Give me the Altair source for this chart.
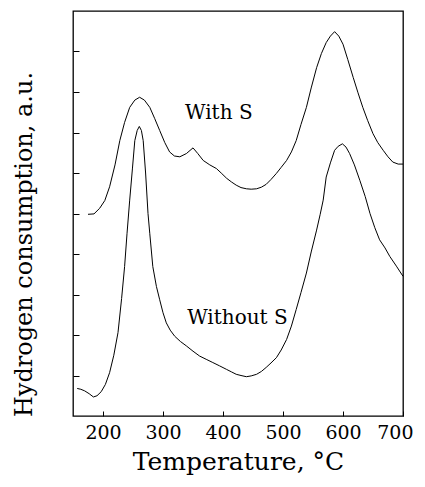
import altair as alt
import pandas as pd

# "With S" curve
temp_with = [175, 185, 194.5, 203, 211, 220, 228, 236, 244.5, 253, 261, 269, 278, 286, 294.5, 303, 311, 319,
             328, 339, 350, 358, 367, 378, 389, 397, 406, 414, 422, 430, 439, 447, 456, 464, 472, 480, 489,
             497, 506, 514, 522, 530, 539, 547, 556, 564, 572, 579, 586, 593, 600, 608, 617, 625, 633, 641,
             650, 658, 667, 675, 683, 692, 700]
val_with = [4.98, 4.99, 5.13, 5.32, 5.66, 6.2, 6.8, 7.25, 7.62, 7.8, 7.87, 7.8, 7.62, 7.35, 7.05, 6.75, 6.52,
            6.42, 6.40, 6.48, 6.62, 6.48, 6.31, 6.2, 6.11, 6.0, 5.87, 5.78, 5.70, 5.64, 5.61, 5.60, 5.61, 5.65,
            5.72, 5.84, 5.99, 6.14, 6.31, 6.52, 6.8, 7.2, 7.62, 8.1, 8.6, 8.95, 9.22, 9.38, 9.49, 9.38, 9.18,
            8.8, 8.36, 7.98, 7.62, 7.3, 6.97, 6.75, 6.56, 6.4, 6.27, 6.22, 6.22]

# "Without S" curve
temp_without = [157, 163, 169.5, 177, 184, 190, 197, 204, 211, 218, 225, 231, 236, 240, 244.5, 249, 253, 257,
                260.5, 264, 267, 271, 275, 278, 283, 289, 294.5, 300, 305.5, 312, 319.5, 329, 339, 350, 361,
                372, 383, 394, 406, 414, 422, 430, 439, 447, 456, 464, 472, 480, 489, 497, 506, 514, 522, 530,
                539, 547, 556, 562, 567, 572, 579, 586, 592, 599, 605, 611, 619, 628, 637, 645, 653, 661, 670,
                678, 689, 700]
val_without = [0.68, 0.66, 0.62, 0.55, 0.47, 0.5, 0.6, 0.78, 1.07, 1.5, 2.06, 2.9, 3.69, 4.5, 5.33, 6.1, 6.8,
               7.05, 7.15, 7.05, 6.8, 6.0, 5.0, 4.5, 3.69, 3.2, 2.87, 2.55, 2.30, 2.12, 1.97, 1.84, 1.73, 1.6,
               1.48, 1.4, 1.32, 1.24, 1.15, 1.09, 1.03, 1.0, 0.97, 0.99, 1.03, 1.1, 1.20, 1.31, 1.44, 1.63, 1.89,
               2.22, 2.63, 3.05, 3.53, 4.05, 4.59, 4.98, 5.33, 5.9, 6.25, 6.56, 6.66, 6.72, 6.64, 6.48, 6.2,
               5.82, 5.42, 5.0, 4.65, 4.35, 4.15, 3.94, 3.7, 3.45]

label_text = ["With S", "Without S"]
label_temp = [393, 424]
label_val = [7.47, 2.43]

x_ticks = [200, 250, 300, 350, 400, 450, 500, 550, 600, 650, 700]
y_ticks = [1, 2, 3, 4, 5, 6, 7, 8, 9]

df = pd.concat([
    pd.DataFrame({"T": temp_with, "H": val_with, "series": "With S"}),
    pd.DataFrame({"T": temp_without, "H": val_without, "series": "Without S"}),
])
labels = pd.DataFrame({"T": label_temp, "H": label_val, "text": label_text})

FONT = "DejaVu Serif"

x_enc = alt.X(
    "T:Q",
    scale=alt.Scale(domain=[150, 700], nice=False, zero=False),
    axis=alt.Axis(
        values=x_ticks,
        labelExpr="datum.value % 100 == 0 ? datum.label : ''",
        offset=-5, tickSize=5, tickColor="black", tickWidth=1,
        domain=False, grid=False,
        labelPadding=7, labelFont=FONT, labelFontSize=19, labelColor="black",
        labelFlush=True, labelFlushOffset=10,
        title="Temperature, °C", titleFont=FONT, titleFontSize=25,
        titleFontWeight="normal", titleColor="black", titlePadding=7,
    ),
)
y_enc = alt.Y(
    "H:Q",
    scale=alt.Scale(domain=[0, 10], nice=False),
    axis=alt.Axis(
        values=y_ticks, labels=False,
        offset=-6, tickSize=6, tickColor="black", tickWidth=1,
        domain=False, grid=False,
        title="Hydrogen consumption, a.u.", titleFont=FONT, titleFontSize=24,
        titleFontWeight="normal", titleColor="black", titlePadding=36, titleY=233,
    ),
)

lines = alt.Chart(df).mark_line(color="black", strokeWidth=1).encode(
    x=x_enc, y=y_enc, detail="series:N"
)
texts = alt.Chart(labels).mark_text(
    font=FONT, fontSize=20, color="black", align="center", baseline="middle"
).encode(x="T:Q", y="H:Q", text="text:N")

chart = (lines + texts).properties(
    width=330, height=405,
    autosize=alt.AutoSizeParams(type="none"),
    padding={"left": 65, "top": 3, "right": 14, "bottom": 63},
).configure_view(stroke="black", strokeWidth=1.3)

chart.save("out.html", embed_options={"renderer": "svg", "actions": False})
